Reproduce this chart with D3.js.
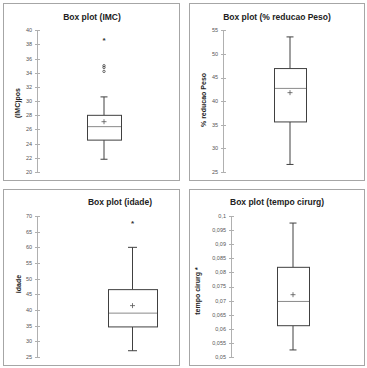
<!DOCTYPE html>
<html><head><meta charset="utf-8">
<script src="https://cdn.jsdelivr.net/npm/d3@7"></script>
<style>body{margin:0;background:#fff}svg{display:block}</style>
</head><body>
<script>
// ---- data ----
const titles = ["Box plot (IMC)", "Box plot (% reducao Peso)", "Box plot (idade)", "Box plot (tempo cirurg)"];
const yLabels = ["(IMC)pos", "% reducao Peso", "idade", "tempo cirurg *"];
const yDomains = [[20, 40], [25, 55], [25, 70], [0.05, 0.1]];
const tickSteps = [2, 5, 5, 0.005];
const whiskerLow = [21.8, 26.6, 27, 0.0525];
const q1 = [24.5, 35.6, 34.6, 0.0611];
const median = [26.4, 42.7, 39.0, 0.0697];
const q3 = [28.0, 46.9, 46.5, 0.0818];
const whiskerHigh = [30.6, 53.6, 60, 0.0975];
const means = [27.1, 41.8, 41.4, 0.0721];
const outliersStar = [[38.8], [], [68.2], []];
const outliersCircle = [[35.0, 34.75, 34.2], [], [], []];

// ---- layout ----
const W = 367, H = 368;
const layout = [
  {frame:[3,3,176,177], axisX:37, y0:30.3, y1:172, box:[87,121], cap:7, title:[92,17], ylab:[18,103]},
  {frame:[189,3,175,177], axisX:223, y0:30.3, y1:172, box:[274,306], cap:7, title:[277,17], ylab:[204,100]},
  {frame:[3,189,176,176], axisX:37, y0:216, y1:357, box:[108,157], cap:9, title:[120,202], ylab:[19,284]},
  {frame:[189,189,175,176], axisX:231, y0:216, y1:357, box:[277,309], cap:7, title:[277,202], ylab:[198,291]}
];
const fmt = [d3.format("d"), d3.format("d"), d3.format("d"), v => String(+v.toFixed(3)).replace(".", ",")];

const svg = d3.select("body").append("svg").attr("width", W).attr("height", H);

titles.forEach((t, i) => {
  const L = layout[i];
  const g = svg.append("g");
  g.append("rect").attr("x", L.frame[0] + 0.5).attr("y", L.frame[1] + 0.5)
    .attr("width", L.frame[2]).attr("height", L.frame[3])
    .attr("fill", "#fff").attr("stroke", "#a6a6a6").attr("stroke-width", 1);

  const y = d3.scaleLinear().domain(yDomains[i]).range([L.y1, L.y0]);
  const ticks = d3.range(yDomains[i][0], yDomains[i][1] + tickSteps[i] / 2, tickSteps[i]);

  // axis
  g.append("line").attr("x1", L.axisX + 0.5).attr("x2", L.axisX + 0.5)
    .attr("y1", y(yDomains[i][0])).attr("y2", y(yDomains[i][1]))
    .attr("stroke", "#b0b0b0").attr("stroke-width", 1);
  ticks.forEach(v => {
    g.append("line").attr("x1", L.axisX - 2).attr("x2", L.axisX + 3)
      .attr("y1", Math.round(y(v)) + 0.5).attr("y2", Math.round(y(v)) + 0.5)
      .attr("stroke", "#b0b0b0").attr("stroke-width", 1);
    g.append("text").attr("x", L.axisX - 5).attr("y", y(v)).attr("dy", "0.35em")
      .attr("text-anchor", "end").attr("font-family", "Liberation Sans, Arial, sans-serif")
      .attr("font-size", "5.5px").attr("fill", "#555").text(fmt[i](v));
  });

  // title
  g.append("text").attr("x", L.title[0]).attr("y", L.title[1]).attr("dy", "0.35em")
    .attr("text-anchor", "middle").attr("font-family", "Liberation Sans, Arial, sans-serif")
    .attr("font-weight", "bold").attr("font-size", "8.5px").attr("fill", "#222").text(t);
  // y label
  g.append("text").attr("transform", `translate(${L.ylab[0]},${L.ylab[1]}) rotate(-90)`)
    .attr("dy", "0.35em").attr("text-anchor", "middle")
    .attr("font-family", "Liberation Sans, Arial, sans-serif")
    .attr("font-weight", "bold").attr("font-size", "7px").attr("fill", "#222").text(yLabels[i]);

  const bx0 = L.box[0], bx1 = L.box[1], cx = (bx0 + bx1) / 2;
  const stroke = "#404040";
  // whiskers
  g.append("line").attr("x1", cx).attr("x2", cx).attr("y1", y(q3[i])).attr("y2", y(whiskerHigh[i]))
    .attr("stroke", stroke).attr("stroke-width", 1);
  g.append("line").attr("x1", cx).attr("x2", cx).attr("y1", y(q1[i])).attr("y2", y(whiskerLow[i]))
    .attr("stroke", stroke).attr("stroke-width", 1);
  [whiskerHigh[i], whiskerLow[i]].forEach(v => {
    g.append("line").attr("x1", cx - L.cap / 2).attr("x2", cx + L.cap / 2)
      .attr("y1", y(v)).attr("y2", y(v)).attr("stroke", stroke).attr("stroke-width", 1);
  });
  // box
  g.append("rect").attr("x", bx0 + 0.5).attr("y", y(q3[i]))
    .attr("width", bx1 - bx0).attr("height", y(q1[i]) - y(q3[i]))
    .attr("fill", "#fff").attr("stroke", stroke).attr("stroke-width", 1);
  // median
  g.append("line").attr("x1", bx0 + 1).attr("x2", bx1).attr("y1", y(median[i])).attr("y2", y(median[i]))
    .attr("stroke", "#8a8a8a").attr("stroke-width", 1);
  // mean
  const my = y(means[i]);
  g.append("path").attr("d", `M${cx - 2.5},${my}H${cx + 2.5}M${cx},${my - 2.5}V${my + 2.5}`)
    .attr("stroke", "#555").attr("stroke-width", 0.8).attr("fill", "none");
  // outliers
  outliersStar[i].forEach(v => {
    g.append("text").attr("x", cx).attr("y", y(v)).attr("dy", "0.55em").attr("text-anchor", "middle")
      .attr("font-family", "Liberation Sans, Arial, sans-serif").attr("font-size", "8px")
      .attr("font-weight", "bold").attr("fill", "#333").text("*");
  });
  outliersCircle[i].forEach(v => {
    g.append("circle").attr("cx", cx).attr("cy", y(v)).attr("r", 1.2)
      .attr("fill", "none").attr("stroke", "#444").attr("stroke-width", 0.8);
  });
});
</script>
</body></html>
